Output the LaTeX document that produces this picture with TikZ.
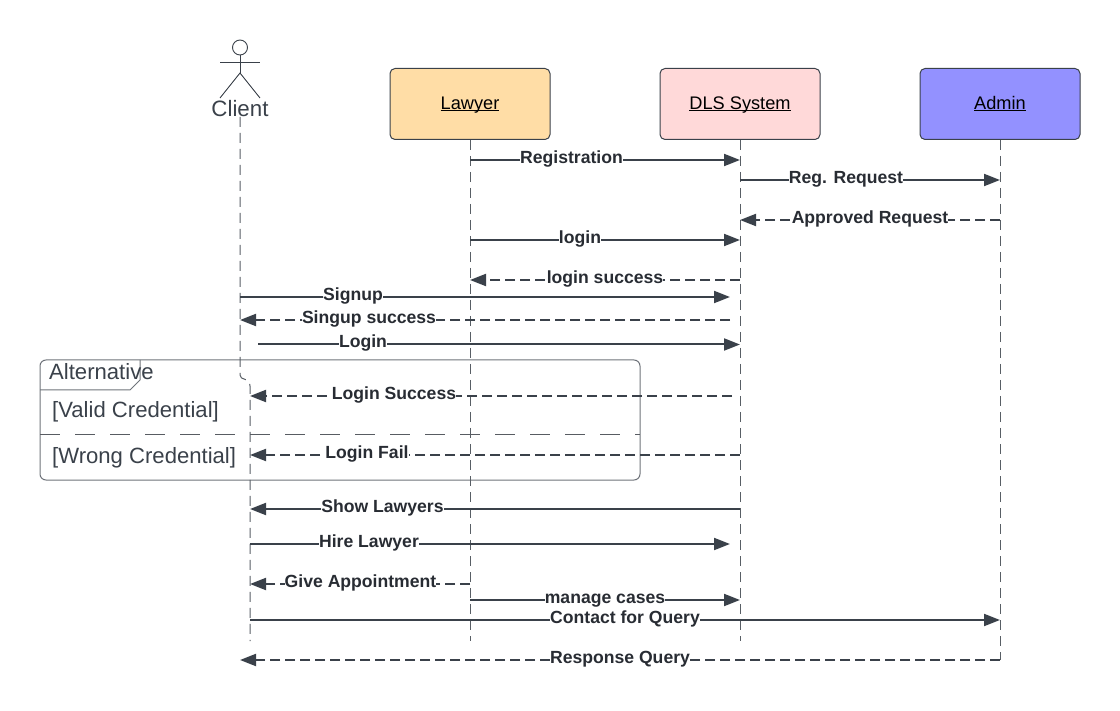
\documentclass[tikz,border=0pt]{standalone}
\usepackage{fontspec}
\setmainfont{Liberation Sans}
\usetikzlibrary{arrows.meta}
\definecolor{ink}{HTML}{3A414A}
\definecolor{frameline}{HTML}{6E737A}
\definecolor{txt}{HTML}{282C33}
\definecolor{frametxt}{HTML}{3A414A}
\definecolor{lawyerfill}{HTML}{FFDDA6}
\definecolor{dlsfill}{HTML}{FFD9D9}
\definecolor{adminfill}{HTML}{9391FF}
\tikzset{
  lifeline/.style={draw=ink!85!white,line width=1pt,dash pattern=on 10pt off 6pt},
  actorbox/.style={draw=ink,line width=1pt,rounded corners=5pt,minimum width=160pt,minimum height=71pt,inner sep=0pt,text=black,text height=14pt,text depth=3.6pt,font=\fontsize{18.2}{21}\selectfont},
  msgbase/.style={draw=ink,line width=2pt,-{Triangle[length=16pt,width=12pt]}},
  solidmsg/.style={msgbase},
  dashmsg/.style={msgbase,dash pattern=on 10pt off 5pt},
  msglabel/.style={fill=white,inner xsep=0pt,inner ysep=0pt,text height=12.5pt,text depth=3.7pt,anchor=base,text=txt,font=\bfseries\fontsize{17.6}{20}\selectfont},
  framelabel/.style={text=frametxt,anchor=west,inner sep=0pt,font=\fontsize{22.1}{26}\selectfont},
  figure/.style={draw=ink,line width=0.9pt}
}
\newcommand{\msgline}[7]{%
  \coordinate (#1s) at (#2,#4);
  \coordinate (#1e) at (#3,#4);
  \draw[#7] (#1s) -- (#1e);
  \node[msglabel] (#1l) at (#5,#4+3.3) {#6};
}
\begin{document}
\begin{tikzpicture}[x=1pt,y=-1pt]
\useasboundingbox (0,0) rectangle (1120,711);
% frame
\node[inner sep=0pt,minimum width=600pt,minimum height=120pt,draw=frameline,line width=1pt,rounded corners=6pt] (frame) at (340,420) {};
\coordinate (tabA) at (140,360);
\coordinate (tabB) at (140,380);
\coordinate (tabC) at (130,390);
\coordinate (tabD) at (40,390);
\draw[draw=frameline,line width=1pt] (tabA) -- (tabB) -- (tabC) -- (tabD);
\coordinate (divA) at (40,434.5);
\coordinate (divB) at (640,434.5);
\draw[draw=frameline!80!black,line width=1pt,dash pattern=on 20pt off 15pt] (divA) -- (divB);
\node[framelabel] (alt) at (49,372) {Alternative};
\node[framelabel] (valid) at (52,411.5) {[Valid Credential]};
\node[framelabel] (wrong) at (52,457.5) {[Wrong Credential]};
% actor
\node[draw=ink,line width=0.9pt,circle,minimum size=15pt,inner sep=0pt] (head) at (240,47.5) {};
\coordinate (hip) at (240,73);
\coordinate (armL) at (220,62);
\coordinate (armR) at (260,62);
\coordinate (footL) at (220,98);
\coordinate (footR) at (260,98);
\draw[figure] (head.south) -- (hip);
\draw[figure] (armL) -- (armR);
\draw[figure] (footL) -- (hip) -- (footR);
\node[text=frametxt,inner sep=0pt,font=\fontsize{22.3}{26}\selectfont] (client) at (240,109) {Client};
% boxes
\node[actorbox,fill=lawyerfill] (lawyer) at (470,104) {\underline{\smash{Lawyer}}};
\node[actorbox,fill=dlsfill] (dls) at (740,104) {\underline{\smash{DLS System}}};
\node[actorbox,fill=adminfill] (admin) at (1000,104) {\underline{\smash{Admin}}};
% lifelines
\coordinate (clientEndA) at (240,117);
\coordinate (clientBendA) at (240,375);
\coordinate (clientBendB) at (250,386);
\coordinate (clientEndB) at (250,641);
\coordinate (lawyerEnd) at (470,641);
\coordinate (dlsEnd) at (740,641);
\coordinate (adminEnd) at (1000,660);
\draw[lifeline] (clientEndA) -- (clientBendA) .. controls (240,381) and (250,377) .. (clientBendB) -- (clientEndB);
\draw[lifeline] (lawyer.south) -- (lawyerEnd);
\draw[lifeline] (dls.south) -- (dlsEnd);
\draw[lifeline] (admin.south) -- (adminEnd);
% messages
\msgline{a}{470}{740}{160}{571.5}{Registration}{solidmsg}
\msgline{b}{740}{1000}{180}{846}{Reg. Request}{solidmsg}
\msgline{c}{1000}{740}{220}{870}{Approved Request}{dashmsg}
\msgline{d}{470}{740}{240}{580}{login}{solidmsg}
\msgline{e}{740}{470}{280}{605}{login success}{dashmsg}
\msgline{f}{240}{730}{297}{353}{Signup}{solidmsg}
\msgline{g}{730}{240}{320}{369}{Singup success}{dashmsg}
\msgline{h}{258}{740}{344.5}{363}{Login}{solidmsg}
\msgline{i}{732}{250}{396}{394}{Login Success}{dashmsg}
\msgline{j}{740}{250}{455}{367}{Login Fail}{dashmsg}
\msgline{k}{740}{250}{509}{382.5}{Show Lawyers}{solidmsg}
\msgline{l}{250}{730}{544}{369}{Hire Lawyer}{solidmsg}
\msgline{m}{470}{250}{584}{360.5}{Give Appointment}{dashmsg}
\msgline{n}{470}{740}{600}{605}{manage cases}{solidmsg}
\msgline{o}{250}{1000}{620}{625}{Contact for Query}{solidmsg}
\msgline{p}{1000}{240}{660}{620}{Response Query}{dashmsg}
\end{tikzpicture}
\end{document}
